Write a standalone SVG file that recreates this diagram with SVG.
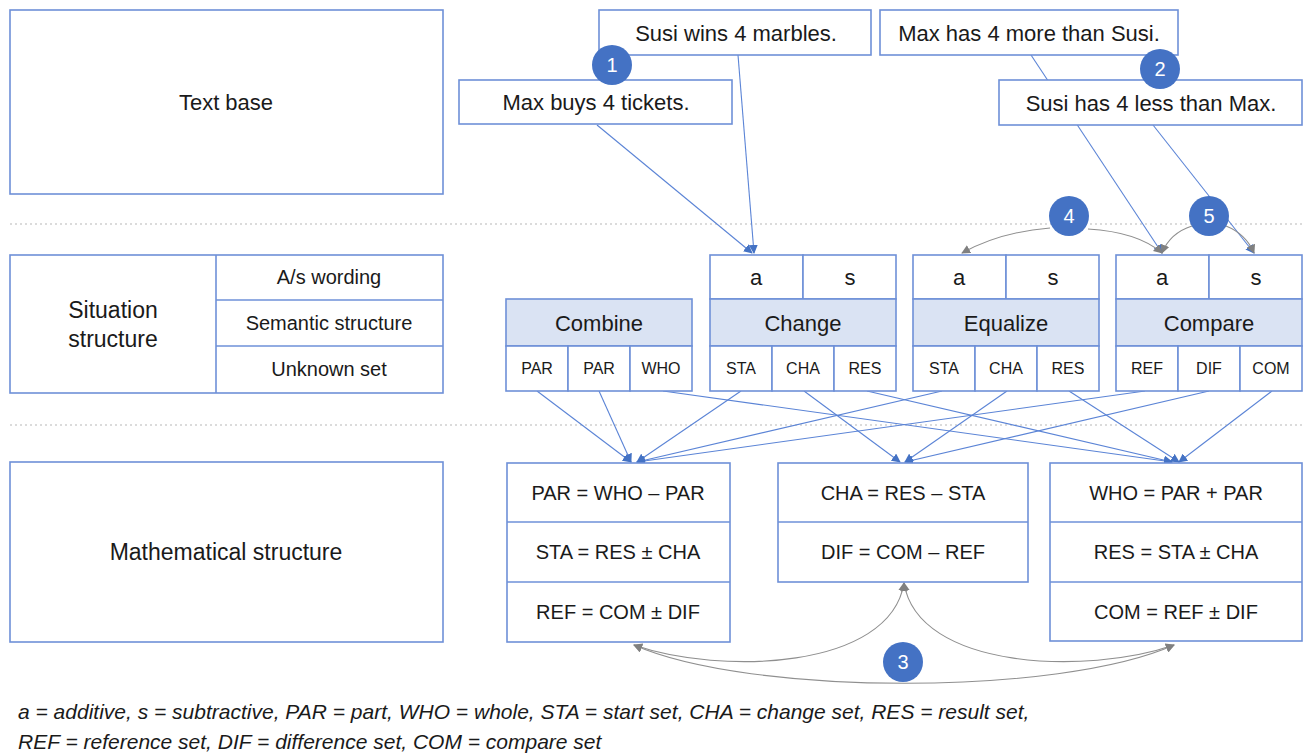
<svg xmlns="http://www.w3.org/2000/svg" width="1304" height="755" viewBox="0 0 1304 755">
<defs>
<style>
.box{fill:#fff;stroke:#6e90d8;stroke-width:1.6}
.hdr{fill:#dae3f3;stroke:#6e90d8;stroke-width:1.6}
.t{font-family:"Liberation Sans",Arial,sans-serif;fill:#1a1a1a;text-anchor:middle;dominant-baseline:central}
.lab{font-size:23px}
.big{font-size:22px}
.eq{font-size:20px}
.mid{font-size:20px}
.sm{font-size:16px}
.blue{fill:none;stroke:#5b84d6;stroke-width:1.1}
.gray{fill:none;stroke:#8f8f8f;stroke-width:1.1}
.sep{stroke:#b8b8b8;stroke-width:1.2;stroke-dasharray:2 3}
.badge{fill:#4472c4}
.num{font-family:"Liberation Sans",Arial,sans-serif;font-size:20px;fill:#fff;text-anchor:middle;dominant-baseline:central}
.leg{font-family:"Liberation Sans",Arial,sans-serif;font-size:21px;font-style:italic;fill:#1a1a1a}
</style>
<marker id="ab" viewBox="0 0 10 10" refX="9" refY="5" markerWidth="9" markerHeight="9" markerUnits="userSpaceOnUse" orient="auto"><path d="M0,0 L10,5 L0,10 z" fill="#4472c4"/></marker>
<marker id="ag" viewBox="0 0 10 10" refX="9" refY="5" markerWidth="9" markerHeight="9" markerUnits="userSpaceOnUse" orient="auto-start-reverse"><path d="M0,0 L10,5 L0,10 z" fill="#808080"/></marker>
</defs>
<rect width="1304" height="755" fill="#fff"/>

<g id="separators">
<line class="sep" x1="10" y1="224" x2="1304" y2="224"/>
<line class="sep" x1="10" y1="425" x2="1304" y2="425"/>
</g>

<g id="connectors">
<line class="blue" x1="597" y1="125" x2="752" y2="253" marker-end="url(#ab)"/>
<line class="blue" x1="738" y1="55" x2="754" y2="253" marker-end="url(#ab)"/>
<line class="blue" x1="1031" y1="55" x2="1162" y2="253" marker-end="url(#ab)"/>
<line class="blue" x1="1153" y1="125" x2="1254" y2="253" marker-end="url(#ab)"/>

<line class="blue" x1="537" y1="391" x2="631" y2="462" marker-end="url(#ab)"/>
<line class="blue" x1="599" y1="391" x2="631" y2="462" marker-end="url(#ab)"/>
<line class="blue" x1="663" y1="391" x2="1172" y2="462" marker-end="url(#ab)"/>
<line class="blue" x1="741" y1="391" x2="637" y2="462" marker-end="url(#ab)"/>
<line class="blue" x1="804" y1="391" x2="900" y2="462" marker-end="url(#ab)"/>
<line class="blue" x1="867" y1="391" x2="1172" y2="462" marker-end="url(#ab)"/>
<line class="blue" x1="942" y1="391" x2="637" y2="462" marker-end="url(#ab)"/>
<line class="blue" x1="1007" y1="391" x2="905" y2="462" marker-end="url(#ab)"/>
<line class="blue" x1="1069" y1="391" x2="1179" y2="462" marker-end="url(#ab)"/>
<line class="blue" x1="1145" y1="391" x2="637" y2="462" marker-end="url(#ab)"/>
<line class="blue" x1="1209" y1="391" x2="905" y2="462" marker-end="url(#ab)"/>
<line class="blue" x1="1272" y1="391" x2="1179" y2="462" marker-end="url(#ab)"/>

<path class="gray" d="M1050,228 Q1000,232 962,253" marker-end="url(#ag)"/>
<path class="gray" d="M1088,229 Q1138,232 1162,253" marker-end="url(#ag)"/>
<path class="gray" d="M1192,226 Q1170,233 1162,253" marker-end="url(#ag)"/>
<path class="gray" d="M1226,226 Q1246,234 1254,253" marker-end="url(#ag)"/>

<path class="gray" d="M634,645 C720,675 890,670 904,583" marker-start="url(#ag)" marker-end="url(#ag)"/>
<path class="gray" d="M904,583 C918,670 1088,675 1174,645" marker-start="url(#ag)" marker-end="url(#ag)"/>
<path class="gray" d="M634,645 C750,696 1060,696 1174,645" marker-start="url(#ag)" marker-end="url(#ag)"/>
</g>

<g id="text-base">
<rect class="box" x="10" y="10" width="433" height="184"/>
<text class="t big" x="226" y="102">Text base</text>
</g>

<g id="situation-structure">
<rect class="box" x="10" y="255" width="433" height="138"/>
<line class="box" x1="216" y1="255" x2="216" y2="393"/>
<line class="box" x1="216" y1="300" x2="443" y2="300"/>
<line class="box" x1="216" y1="346" x2="443" y2="346"/>
<text class="t lab" x="113" y="310">Situation</text>
<text class="t lab" x="113" y="339">structure</text>
<text class="t mid" x="329" y="277">A/s wording</text>
<text class="t mid" x="329" y="323">Semantic structure</text>
<text class="t mid" x="329" y="369">Unknown set</text>
</g>

<g id="mathematical-structure">
<rect class="box" x="10" y="462" width="433" height="180"/>
<text class="t lab" x="226" y="552">Mathematical structure</text>
</g>

<g id="susi-wins">
<rect class="box" x="599" y="10" width="272" height="45"/>
<text class="t big" x="736" y="33">Susi wins 4 marbles.</text>
</g>
<g id="max-buys">
<rect class="box" x="459" y="80" width="273" height="44"/>
<text class="t big" x="596" y="102">Max buys 4 tickets.</text>
</g>
<g id="max-has-more">
<rect class="box" x="880" y="10" width="298" height="45"/>
<text class="t big" x="1029" y="33">Max has 4 more than Susi.</text>
</g>
<g id="susi-has-less">
<rect class="box" x="999" y="80" width="303" height="45"/>
<text class="t big" x="1151" y="103">Susi has 4 less than Max.</text>
</g>

<g id="combine">
<rect class="hdr" x="506" y="299" width="186" height="47"/>
<text class="t big" x="599" y="323">Combine</text>
<rect class="box" x="506" y="346" width="62" height="45"/>
<rect class="box" x="568" y="346" width="62" height="45"/>
<rect class="box" x="630" y="346" width="62" height="45"/>
<text class="t sm" x="537" y="368">PAR</text>
<text class="t sm" x="599" y="368">PAR</text>
<text class="t sm" x="661" y="368">WHO</text>
</g>

<g id="change">
<rect class="box" x="710" y="255" width="93" height="44"/>
<rect class="box" x="803" y="255" width="93" height="44"/>
<text class="t big" x="756" y="277">a</text>
<text class="t big" x="850" y="277">s</text>
<rect class="hdr" x="710" y="299" width="186" height="47"/>
<text class="t big" x="803" y="323">Change</text>
<rect class="box" x="710" y="346" width="62" height="45"/>
<rect class="box" x="772" y="346" width="62" height="45"/>
<rect class="box" x="834" y="346" width="62" height="45"/>
<text class="t sm" x="741" y="368">STA</text>
<text class="t sm" x="803" y="368">CHA</text>
<text class="t sm" x="865" y="368">RES</text>
</g>

<g id="equalize">
<rect class="box" x="913" y="255" width="93" height="44"/>
<rect class="box" x="1006" y="255" width="93" height="44"/>
<text class="t big" x="959" y="277">a</text>
<text class="t big" x="1053" y="277">s</text>
<rect class="hdr" x="913" y="299" width="186" height="47"/>
<text class="t big" x="1006" y="323">Equalize</text>
<rect class="box" x="913" y="346" width="62" height="45"/>
<rect class="box" x="975" y="346" width="62" height="45"/>
<rect class="box" x="1037" y="346" width="62" height="45"/>
<text class="t sm" x="944" y="368">STA</text>
<text class="t sm" x="1006" y="368">CHA</text>
<text class="t sm" x="1068" y="368">RES</text>
</g>

<g id="compare">
<rect class="box" x="1116" y="255" width="93" height="44"/>
<rect class="box" x="1209" y="255" width="93" height="44"/>
<text class="t big" x="1162" y="277">a</text>
<text class="t big" x="1256" y="277">s</text>
<rect class="hdr" x="1116" y="299" width="186" height="47"/>
<text class="t big" x="1209" y="323">Compare</text>
<rect class="box" x="1116" y="346" width="62" height="45"/>
<rect class="box" x="1178" y="346" width="62" height="45"/>
<rect class="box" x="1240" y="346" width="62" height="45"/>
<text class="t sm" x="1147" y="368">REF</text>
<text class="t sm" x="1209" y="368">DIF</text>
<text class="t sm" x="1271" y="368">COM</text>
</g>

<g id="equations-left">
<rect class="box" x="507" y="463" width="223" height="179"/>
<line class="box" x1="507" y1="522" x2="730" y2="522"/>
<line class="box" x1="507" y1="582" x2="730" y2="582"/>
<text class="t eq" x="618" y="493">PAR = WHO – PAR</text>
<text class="t eq" x="618" y="552">STA = RES ± CHA</text>
<text class="t eq" x="618" y="612">REF = COM ± DIF</text>
</g>

<g id="equations-middle">
<rect class="box" x="778" y="463" width="250" height="119"/>
<line class="box" x1="778" y1="522" x2="1028" y2="522"/>
<text class="t eq" x="903" y="493">CHA = RES – STA</text>
<text class="t eq" x="903" y="552">DIF = COM – REF</text>
</g>

<g id="equations-right">
<rect class="box" x="1050" y="463" width="252" height="178"/>
<line class="box" x1="1050" y1="522" x2="1302" y2="522"/>
<line class="box" x1="1050" y1="582" x2="1302" y2="582"/>
<text class="t eq" x="1176" y="493">WHO = PAR + PAR</text>
<text class="t eq" x="1176" y="552">RES = STA ± CHA</text>
<text class="t eq" x="1176" y="612">COM = REF ± DIF</text>
</g>

<g id="badges">
<g id="badge-1"><circle class="badge" cx="612" cy="65" r="20"/><text class="num" x="612" y="65">1</text></g>
<g id="badge-2"><circle class="badge" cx="1160" cy="69" r="20"/><text class="num" x="1160" y="69">2</text></g>
<g id="badge-3"><circle class="badge" cx="903" cy="662" r="20"/><text class="num" x="903" y="662">3</text></g>
<g id="badge-4"><circle class="badge" cx="1069" cy="216" r="20"/><text class="num" x="1069" y="216">4</text></g>
<g id="badge-5"><circle class="badge" cx="1209" cy="216" r="20"/><text class="num" x="1209" y="216">5</text></g>
</g>

<g id="legend">
<text class="leg" x="18" y="719">a = additive, s = subtractive, PAR = part, WHO = whole, STA = start set, CHA = change set, RES = result set,</text>
<text class="leg" x="18" y="749">REF = reference set, DIF = difference set, COM = compare set</text>
</g>
</svg>
